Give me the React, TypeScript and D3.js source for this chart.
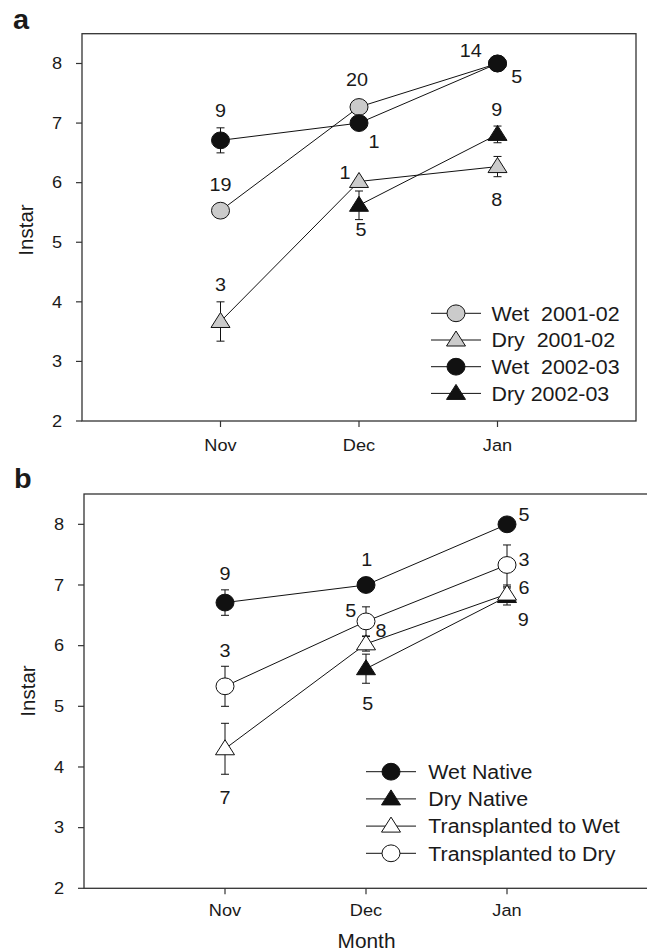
import React from "react";
import * as d3 from "d3";

// ---------- data ----------
const months = ["Nov", "Dec", "Jan"];
const yTicks = [2, 3, 4, 5, 6, 7, 8];

// panel a
const wet0102 = [5.53, 7.27, 8.0];
const wet0102Se = [0, 0, 0];
const dry0102 = [3.67, 6.02, 6.27];
const dry0102Se = [0.33, 0, 0.17];
const wet0203 = [6.71, 7.0, 8.0];
const wet0203Se = [0.21, 0, 0];
const dry0203 = [null, 5.62, 6.81];
const dry0203Se = [null, 0.24, 0.14];

// panel b
const wetNative = [6.71, 7.0, 8.0];
const wetNativeSe = [0.21, 0, 0];
const dryNative = [null, 5.62, 6.81];
const dryNativeSe = [null, 0.24, 0.14];
const transWet = [4.3, 6.03, 6.85];
const transWetSe = [0.42, 0.12, 0.12];
const transDry = [5.33, 6.4, 7.33];
const transDrySe = [0.33, 0.24, 0.33];

// sample sizes (text, month position, instar position)
const labelsA = [
  { t: "9", m: 1.0, v: 7.2 },
  { t: "19", m: 1.0, v: 5.97 },
  { t: "20", m: 1.986, v: 7.73 },
  { t: "1", m: 2.108, v: 6.69 },
  { t: "14", m: 2.806, v: 8.21 },
  { t: "5", m: 3.139, v: 7.78 },
  { t: "9", m: 2.994, v: 7.22 },
  { t: "8", m: 2.994, v: 5.71 },
  { t: "1", m: 1.899, v: 6.17 },
  { t: "5", m: 2.014, v: 5.21 },
  { t: "3", m: 1.0, v: 4.29 },
];
const labelsB = [
  { t: "9", m: 1.0, v: 7.19 },
  { t: "3", m: 1.0, v: 5.91 },
  { t: "7", m: 1.0, v: 3.49 },
  { t: "1", m: 2.005, v: 7.41 },
  { t: "5", m: 1.891, v: 6.57 },
  { t: "8", m: 2.106, v: 6.24 },
  { t: "5", m: 2.012, v: 5.05 },
  { t: "5", m: 3.12, v: 8.16 },
  { t: "3", m: 3.12, v: 7.42 },
  { t: "6", m: 3.12, v: 6.95 },
  { t: "9", m: 3.116, v: 6.42 },
];

const GRAY = "#cbcbcb";
const FONT = "'Liberation Sans', Arial, Helvetica, sans-serif";
const SX = 1.07; // horizontal stretch of the reference lettering

type Series = {
  name: string;
  values: (number | null)[];
  se: (number | null)[];
  shape: "circle" | "triangle";
  fill: string;
};

const seriesA: Series[] = [
  { name: "Wet  2001-02", values: wet0102, se: wet0102Se, shape: "circle", fill: GRAY },
  { name: "Dry  2001-02", values: dry0102, se: dry0102Se, shape: "triangle", fill: GRAY },
  { name: "Wet  2002-03", values: wet0203, se: wet0203Se, shape: "circle", fill: "#111" },
  { name: "Dry 2002-03", values: dry0203, se: dry0203Se, shape: "triangle", fill: "#111" },
];
const seriesB: Series[] = [
  { name: "Wet Native", values: wetNative, se: wetNativeSe, shape: "circle", fill: "#111" },
  { name: "Dry Native", values: dryNative, se: dryNativeSe, shape: "triangle", fill: "#111" },
  { name: "Transplanted to Wet", values: transWet, se: transWetSe, shape: "triangle", fill: "#fff" },
  { name: "Transplanted to Dry", values: transDry, se: transDrySe, shape: "circle", fill: "#fff" },
];

function T({
  x,
  y,
  size,
  anchor = "start",
  weight = "normal",
  children,
}: {
  x: number;
  y: number;
  size: number;
  anchor?: string;
  weight?: string;
  children: React.ReactNode;
}) {
  return (
    <text
      transform={`translate(${x},${y}) scale(${SX},1)`}
      textAnchor={anchor}
      dominantBaseline={weight === "bold" ? "auto" : "central"}
      fontSize={size}
      fontWeight={weight}
      fontFamily={FONT}
      fill="#1a1a1a"
      style={{ whiteSpace: "pre" }}
    >
      {children}
    </text>
  );
}

function Marker({ x, y, shape, fill }: { x: number; y: number; shape: string; fill: string }) {
  if (shape === "circle") {
    return <ellipse cx={x} cy={y} rx={9} ry={8.4} fill={fill} stroke="#111" strokeWidth={1} />;
  }
  const w = 9.5;
  const h = 15;
  const pts = `${x},${y - h * 0.6} ${x + w},${y + h * 0.4} ${x - w},${y + h * 0.4}`;
  return <polygon points={pts} fill={fill} stroke="#111" strokeWidth={1} />;
}

type PanelProps = {
  left: number;
  top: number;
  width: number;
  height: number;
  series: Series[];
  labels: { t: string; m: number; v: number }[];
  letter: string;
  letterX: number;
  letterY: number;
  legendX: number;
  legendY: number;
  legendDy: number;
  legendTextX: number;
  xLabelDy: number;
  titleY: number;
};

function Panel(p: PanelProps) {
  const x = d3.scaleLinear().domain([0, 4]).range([p.left, p.left + p.width]);
  const y = d3.scaleLinear().domain([2, 8.5]).range([p.top + p.height, p.top]);
  const line = d3
    .line<number | null>()
    .defined((d) => d !== null)
    .x((_, i) => x(i + 1))
    .y((d) => y(d as number));
  const bottom = p.top + p.height;
  return (
    <g>
      <T x={p.letterX} y={p.letterY} size={27} weight="bold">
        {p.letter}
      </T>
      <rect x={p.left} y={p.top} width={p.width} height={p.height} fill="none" stroke="#333" strokeWidth={1.3} />
      {yTicks.map((t) => (
        <g key={"y" + t}>
          <line x1={p.left - 6} x2={p.left} y1={y(t)} y2={y(t)} stroke="#333" strokeWidth={1.2} />
          <T x={p.left - 20} y={y(t)} size={17} anchor="end">
            {t}
          </T>
        </g>
      ))}
      {months.map((m, i) => (
        <g key={m}>
          <line x1={x(i + 1)} x2={x(i + 1)} y1={bottom} y2={bottom + 6} stroke="#333" strokeWidth={1.2} />
          <T x={x(i + 1)} y={bottom + p.xLabelDy} size={17} anchor="middle">
            {m}
          </T>
        </g>
      ))}
      <text
        transform={`translate(${p.left - 57},${p.titleY}) rotate(-90)`}
        textAnchor="middle"
        dominantBaseline="central"
        fontSize={20.5}
        fontFamily={FONT}
        fill="#1a1a1a"
      >
        Instar
      </text>
      {/* connecting lines */}
      {p.series.map((s) => (
        <path key={"l" + s.name} d={line(s.values) || ""} fill="none" stroke="#111" strokeWidth={1} />
      ))}
      {/* error bars + markers */}
      {p.series.map((s) => (
        <g key={"m" + s.name}>
          {s.values.map((v, i) => {
            if (v === null) return null;
            const se = s.se[i] || 0;
            const cx = x(i + 1);
            return (
              <g key={i}>
                {se > 0 && (
                  <g stroke="#111" strokeWidth={1}>
                    <line x1={cx} x2={cx} y1={y(v - se)} y2={y(v + se)} />
                    <line x1={cx - 4} x2={cx + 4} y1={y(v - se)} y2={y(v - se)} />
                    <line x1={cx - 4} x2={cx + 4} y1={y(v + se)} y2={y(v + se)} />
                  </g>
                )}
                <Marker x={cx} y={y(v)} shape={s.shape} fill={s.fill} />
              </g>
            );
          })}
        </g>
      ))}
      {p.labels.map((l, i) => (
        <T key={"t" + i} x={x(l.m)} y={y(l.v)} size={18.5} anchor="middle">
          {l.t}
        </T>
      ))}
      {/* legend */}
      {p.series.map((s, i) => {
        const ly = p.legendY + i * p.legendDy;
        return (
          <g key={"lg" + s.name}>
            <line x1={p.legendX} x2={p.legendX + 50} y1={ly} y2={ly} stroke="#111" strokeWidth={1} />
            <Marker x={p.legendX + 25} y={ly} shape={s.shape} fill={s.fill} />
            <T x={p.legendTextX} y={ly} size={20}>
              {s.name}
            </T>
          </g>
        );
      })}
    </g>
  );
}

export default function App() {
  return (
    <svg width={647} height={952} style={{ position: "absolute", left: 0, top: 0, background: "#fff" }}>
      <rect x={0} y={0} width={647} height={952} fill="#fff" />
      <Panel
        left={82}
        top={33.7}
        width={554}
        height={387.3}
        series={seriesA}
        labels={labelsA}
        letter="a"
        letterX={13}
        letterY={28.5}
        legendX={431}
        legendY={313.3}
        legendDy={26.7}
        legendTextX={491.5}
        xLabelDy={24}
        titleY={230}
      />
      <Panel
        left={84}
        top={494}
        width={564}
        height={394.3}
        series={seriesB}
        labels={labelsB}
        letter="b"
        letterX={14}
        letterY={487.5}
        legendX={366}
        legendY={771.7}
        legendDy={27.2}
        legendTextX={428.3}
        xLabelDy={22}
        titleY={691}
      />
      <T x={366.5} y={941.5} size={19.5} anchor="middle">
        Month
      </T>
    </svg>
  );
}
